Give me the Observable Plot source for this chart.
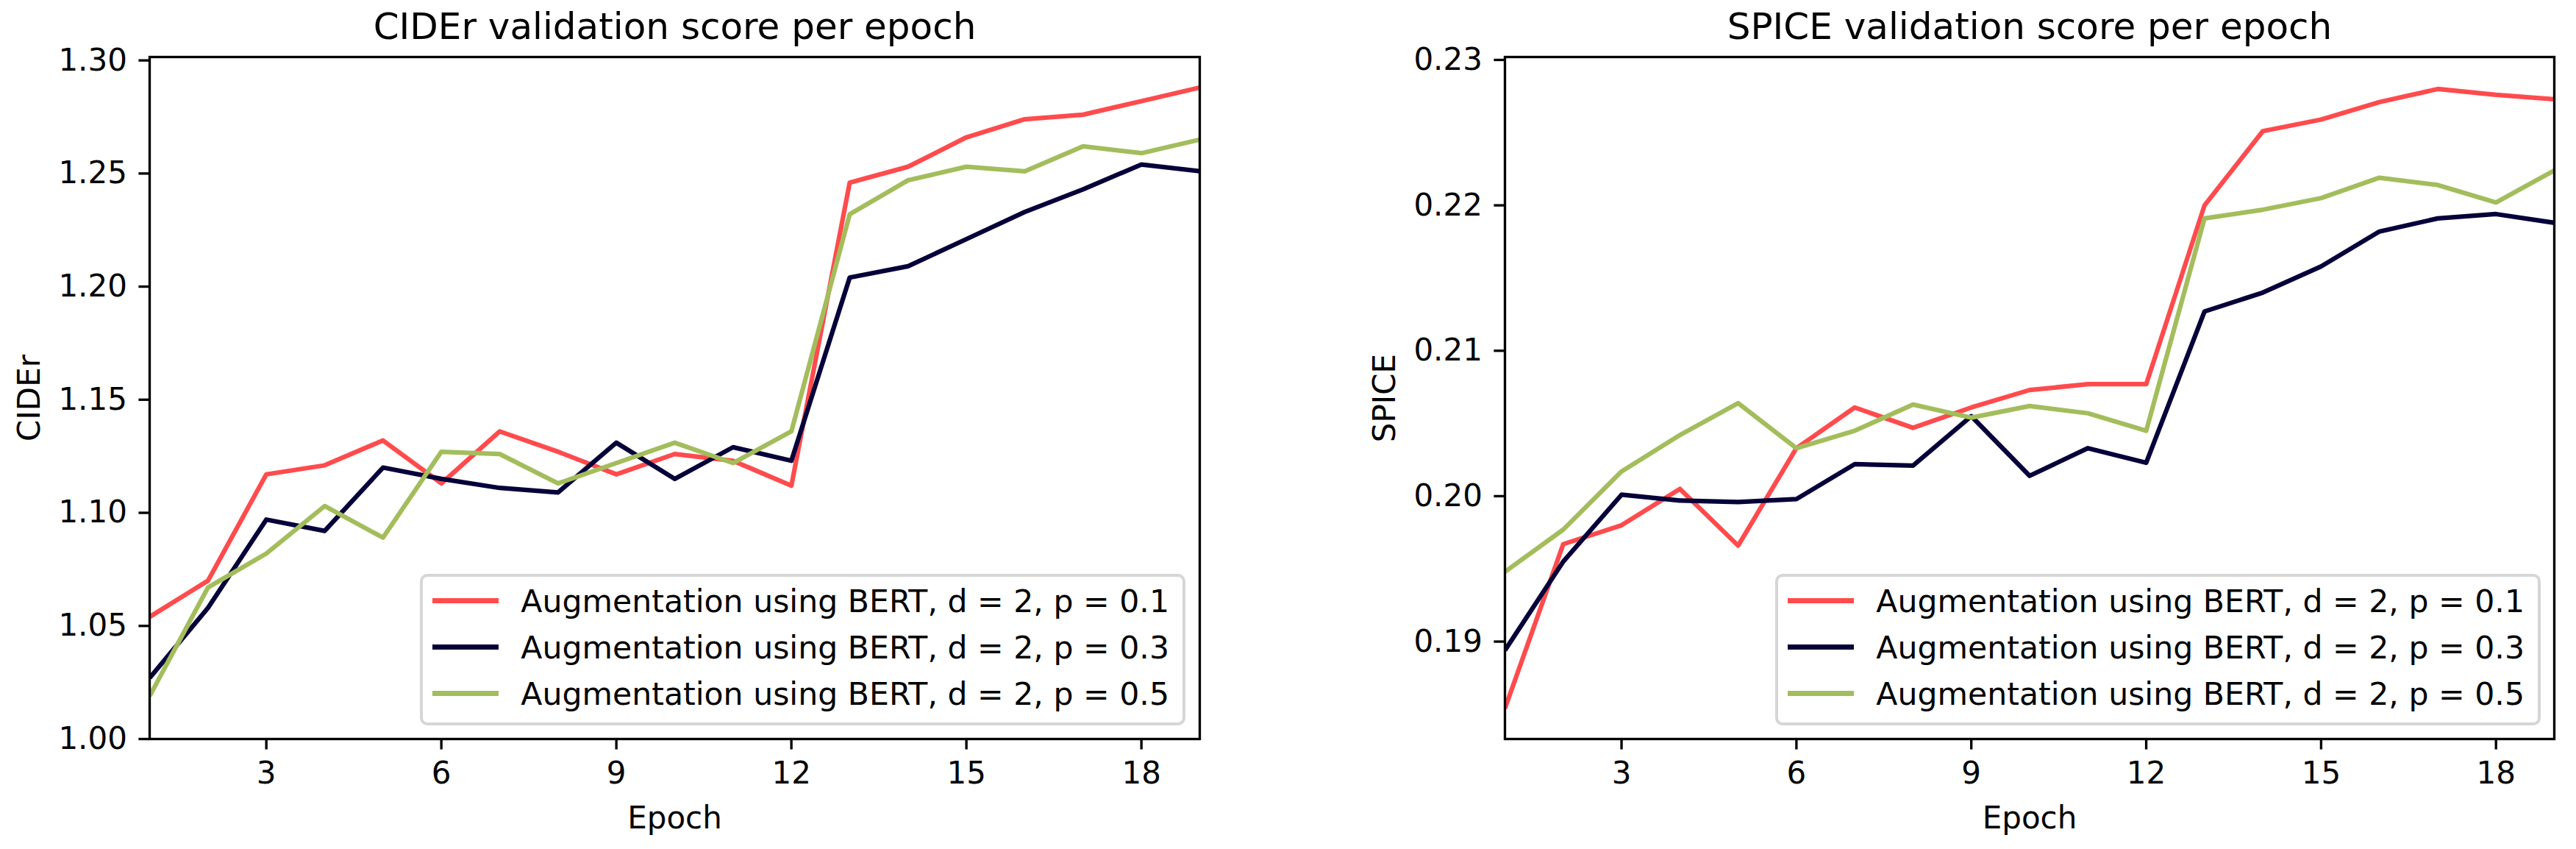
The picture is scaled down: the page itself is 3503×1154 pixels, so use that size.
<!DOCTYPE html>
<html>
<head>
<meta charset="utf-8">
<script src="https://cdn.jsdelivr.net/npm/d3@7"></script>
<script src="https://cdn.jsdelivr.net/npm/@observablehq/plot@0.6"></script>
<style>
  html, body { margin: 0; padding: 0; background: white; }
  body { width: 3503px; height: 1154px; position: relative; overflow: hidden; font-family: "DejaVu Sans", sans-serif; }
  .panel { position: absolute; top: 0; }
  .legend { position: absolute; box-sizing: border-box; border: 4px solid #d6d6d6; border-radius: 10px;
            background: rgba(255,255,255,0.8); padding: 1px 18px 8px 13px; font-size: 42.6px; color: black; }
  .legend .row { display: flex; align-items: center; height: 63px; white-space: nowrap; }
  .legend .swatch { width: 90px; height: 6.25px; margin-right: 30px; flex: none; }
</style>
</head>
<body>
<div id="p1" class="panel" style="left:0px;width:1750px;height:1154px"></div>
<div id="p2" class="panel" style="left:1750px;width:1753px;height:1154px"></div>
<script>
// ---- data ----
const epochs = [1, 2, 3, 4, 5, 6, 7, 8, 9, 10, 11, 12, 13, 14, 15, 16, 17, 18, 19];
const seriesNames = [
  "Augmentation using BERT, d = 2, p = 0.1",
  "Augmentation using BERT, d = 2, p = 0.3",
  "Augmentation using BERT, d = 2, p = 0.5"
];
const ciderP01 = [1.054, 1.070, 1.117, 1.121, 1.132, 1.113, 1.136, 1.127, 1.117, 1.126, 1.123, 1.112, 1.246, 1.253, 1.266, 1.274, 1.276, 1.282, 1.288];
const ciderP03 = [1.027, 1.058, 1.097, 1.092, 1.120, 1.115, 1.111, 1.109, 1.131, 1.115, 1.129, 1.123, 1.204, 1.209, 1.221, 1.233, 1.243, 1.254, 1.251];
const ciderP05 = [1.019, 1.067, 1.082, 1.103, 1.089, 1.127, 1.126, 1.113, 1.122, 1.131, 1.122, 1.136, 1.232, 1.247, 1.253, 1.251, 1.262, 1.259, 1.265];
const spiceP01 = [0.1854, 0.1967, 0.1980, 0.2005, 0.1966, 0.2033, 0.2061, 0.2047, 0.2061, 0.2073, 0.2077, 0.2077, 0.2200, 0.2251, 0.2259, 0.2271, 0.2280, 0.2276, 0.2273];
const spiceP03 = [0.1894, 0.1955, 0.2001, 0.1997, 0.1996, 0.1998, 0.2022, 0.2021, 0.2055, 0.2014, 0.2033, 0.2023, 0.2127, 0.2140, 0.2158, 0.2182, 0.2191, 0.2194, 0.2188];
const spiceP05 = [0.1948, 0.1977, 0.2017, 0.2042, 0.2064, 0.2033, 0.2045, 0.2063, 0.2054, 0.2062, 0.2057, 0.2045, 0.2191, 0.2197, 0.2205, 0.2219, 0.2214, 0.2202, 0.2224];
const epochTicks = [3, 6, 9, 12, 15, 18];
const ciderTicks = [1.00, 1.05, 1.10, 1.15, 1.20, 1.25, 1.30];
const spiceTicks = [0.19, 0.20, 0.21, 0.22, 0.23];

// ---- styles ----
const seriesColors = ["#ff4b4d", "#06003a", "#a3bd5c"];
const FONT = 42, TITLE_FONT = 50, LW = 6.25, SPINE = 3.33, TICK = 14.6;

function longTable(values) {
  const rows = [];
  values.forEach((vals, s) => vals.forEach((v, i) => rows.push({epoch: epochs[i], value: v, series: seriesNames[s]})));
  return rows;
}

function panel({title, ylabel, values, yDomain, yTicks, width, marginLeft, marginRight}) {
  const rows = longTable(values);
  return Plot.plot({
    width, height: 1154,
    marginLeft, marginRight, marginTop: 77, marginBottom: 150,
    style: {fontFamily: "DejaVu Sans", fontSize: FONT + "px", background: "white", overflow: "visible"},
    x: {domain: [1, 19]},
    y: {domain: yDomain},
    color: {domain: seriesNames, range: seriesColors},
    marks: [
      ...seriesNames.map(name => Plot.line(rows.filter(r => r.series === name), {
        x: "epoch", y: "value", stroke: "series", strokeWidth: LW, clip: true,
        strokeLinejoin: "round", strokeLinecap: "butt"
      })),
      Plot.frame({stroke: "black", strokeWidth: SPINE}),
      Plot.axisX({ticks: epochTicks, tickSize: TICK, tickPadding: 16, fontSize: FONT, strokeWidth: SPINE, label: null, tickFormat: d3.format("d")}),
      Plot.axisY({ticks: yTicks, tickSize: TICK, tickPadding: 16, fontSize: FONT, strokeWidth: SPINE, label: null, tickFormat: d3.format(".2f")}),
      Plot.text([title], {text: d => d, frameAnchor: "top", dy: -25, lineAnchor: "bottom", fontSize: TITLE_FONT, fill: "black"}),
      Plot.text(["Epoch"], {text: d => d, frameAnchor: "bottom", dy: 121, lineAnchor: "bottom", fontSize: FONT, fill: "black"}),
      Plot.text([ylabel], {text: d => d, frameAnchor: "left", dx: -150, rotate: -90, lineAnchor: "bottom", textAnchor: "middle", fontSize: FONT, fill: "black"})
    ]
  });
}

document.getElementById("p1").appendChild(panel({
  title: "CIDEr validation score per epoch", ylabel: "CIDEr",
  values: [ciderP01, ciderP03, ciderP05], yDomain: [1.0, 1.3015], yTicks: ciderTicks,
  width: 1750, marginLeft: 203, marginRight: 119
}));
document.getElementById("p2").appendChild(panel({
  title: "SPICE validation score per epoch", ylabel: "SPICE",
  values: [spiceP01, spiceP03, spiceP05], yDomain: [0.1833, 0.2302], yTicks: spiceTicks,
  width: 1753, marginLeft: 296, marginRight: 30
}));

function legend(rightPx) {
  const div = document.createElement("div");
  div.className = "legend";
  div.style.right = rightPx + "px";
  div.style.bottom = "168px";
  seriesNames.forEach((name, i) => {
    const row = document.createElement("div");
    row.className = "row";
    const sw = document.createElement("div");
    sw.className = "swatch";
    sw.style.background = seriesColors[i];
    const label = document.createElement("span");
    label.textContent = name;
    row.appendChild(sw); row.appendChild(label);
    div.appendChild(row);
  });
  document.body.appendChild(div);
}
legend(3503 - 1612);
legend(3503 - 3455);
</script>
</body>
</html>
